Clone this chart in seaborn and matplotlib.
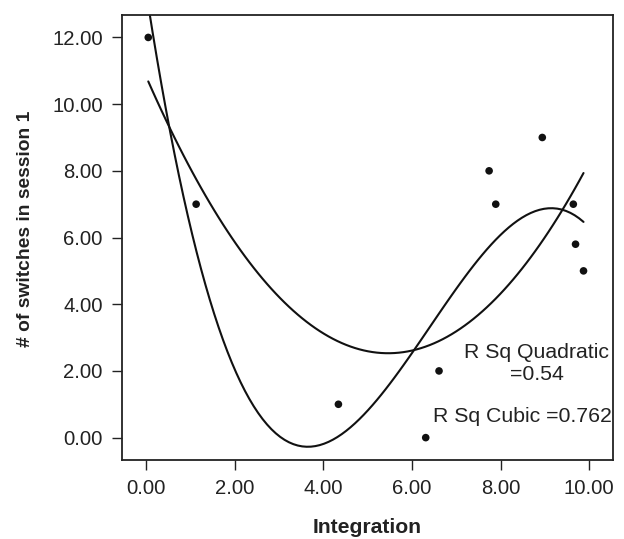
import matplotlib
matplotlib.use("Agg")
import matplotlib.pyplot as plt
import seaborn as sns
import pandas as pd

integration = [0.05, 1.13, 4.34, 6.31, 6.61, 7.74, 7.89, 8.94, 9.64, 9.69, 9.87]
switches = [12.0, 7.0, 1.0, 0.0, 2.0, 8.0, 7.0, 9.0, 7.0, 5.8, 5.0]
x_ticks = [0, 2, 4, 6, 8, 10]
y_ticks = [0, 2, 4, 6, 8, 10, 12]
label_quad = "R Sq Quadratic\n=0.54"
label_cubic = "R Sq Cubic =0.762"

df = pd.DataFrame({"Integration": integration, "switches": switches})

sns.set_theme(style="ticks")
plt.rcParams["font.family"] = ["Liberation Sans", "DejaVu Sans"]
text_col = "#222222"

fig = plt.figure(figsize=(6.24, 5.39), dpi=100)
ax = fig.add_axes([0.195, 0.146, 0.787, 0.826])

sns.scatterplot(data=df, x="Integration", y="switches", ax=ax, color="#111111",
                s=30, edgecolor="none", zorder=3)
sns.regplot(data=df, x="Integration", y="switches", ax=ax, order=2, ci=None,
            scatter=False, truncate=True, line_kws=dict(color="#111111", lw=1.5))
sns.regplot(data=df, x="Integration", y="switches", ax=ax, order=3, ci=None,
            scatter=False, truncate=True, line_kws=dict(color="#111111", lw=1.5))

ax.set_xlim(-0.55, 10.53)
ax.set_ylim(-0.68, 12.67)
ax.set_xticks(x_ticks)
ax.set_xticklabels([f"{v:.2f}" for v in x_ticks])
ax.set_yticks(y_ticks)
ax.set_yticklabels([f"{v:.2f}" for v in y_ticks])
ax.tick_params(axis="both", direction="out", length=7.2, width=1.0,
               colors="#222222", labelsize=14.6, pad=6.5)
for sp in ax.spines.values():
    sp.set_visible(True)
    sp.set_color("#222222")
    sp.set_linewidth(1.3)

ax.set_xlabel("Integration", fontsize=15.2, fontweight="bold", color=text_col, labelpad=14)
ax.set_ylabel("# of switches in session 1", fontsize=13.9, fontweight="bold",
              color=text_col)
ax.yaxis.set_label_coords(-0.178, 0.52)

ax.text(8.81, 2.22, label_quad, ha="center", va="center", fontsize=15.3,
        color=text_col, linespacing=1.15)
ax.text(6.47, 0.63, label_cubic, ha="left", va="center", fontsize=15.3, color=text_col)

fig.savefig("out.png", dpi=100)
